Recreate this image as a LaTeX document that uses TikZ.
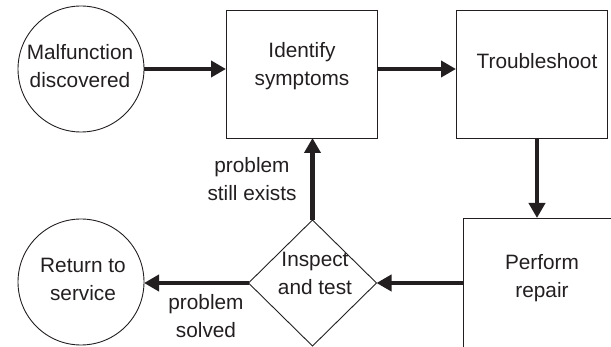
\documentclass[tikz,border=0pt]{standalone}
\usepackage{fontspec}
\setmainfont{Liberation Sans}
\usetikzlibrary{shapes.geometric,arrows.meta}
\definecolor{ink}{HTML}{231F20}
\begin{document}
\begin{tikzpicture}[x=1pt,y=-1pt,
  every node/.style={inner sep=0pt,outer sep=0pt},
  shapeline/.style={draw=ink,line width=0.9pt},
  boxshape/.style={shapeline,rectangle,minimum width=151pt,minimum height=128pt},
  roundshape/.style={shapeline,circle,minimum size=126pt},
  decshape/.style={shapeline,diamond,minimum width=128pt,minimum height=126pt},
  txt/.style={text=ink,align=center,font=\fontsize{20.8}{28.5}\selectfont},
  arr/.style={draw=ink,line width=4.5pt,-{Triangle[length=15pt,width=16pt]}}]
\useasboundingbox (0,0) rectangle (611,347);
\clip (0,0) rectangle (611,347);
% shapes
\node[roundshape] (mal) at (81,69) {};
\node[boxshape] (ident) at (301.5,74) {};
\node[boxshape] (trouble) at (531.5,74) {};
\node[shapeline,rectangle,minimum width=157pt,minimum height=142pt] (perform) at (541.5,289) {};
\node[decshape] (insp) at (312.5,283) {};
\node[roundshape] (ret) at (81,282) {};
% texts
\node[txt] (tmal) at (80,66) {Malfunction\\discovered};
\node[txt] (tident) at (302,66) {Identify\\symptoms};
\node[txt] (ttrouble) at (537,61) {Troubleshoot};
\node[txt] (tperform) at (542,278) {Perform\\repair};
\node[txt] (tinsp) at (315,273.5) {Inspect\\and test};
\node[txt] (tret) at (83,279.5) {Return to\\service};
\node[txt] (lexists) at (252,179) {problem\\still exists};
\node[txt] (lsolved) at (206,316) {problem\\solved};
% connectors
\draw[arr] (mal.east) -- (mal.east -| ident.west);
\draw[arr] ([yshift=5pt]ident.east) -- ([yshift=5pt]trouble.west);
\draw[arr] ([xshift=5.5pt]trouble.south) -- ([xshift=5.5pt]trouble.south |- perform.north);
\draw[arr] (perform.west |- insp.east) -- (insp.east);
\draw[arr] (insp.north) -- (insp.north |- ident.south);
\draw[arr] (insp.west) -- (insp.west -| ret.east);
\end{tikzpicture}
\end{document}
